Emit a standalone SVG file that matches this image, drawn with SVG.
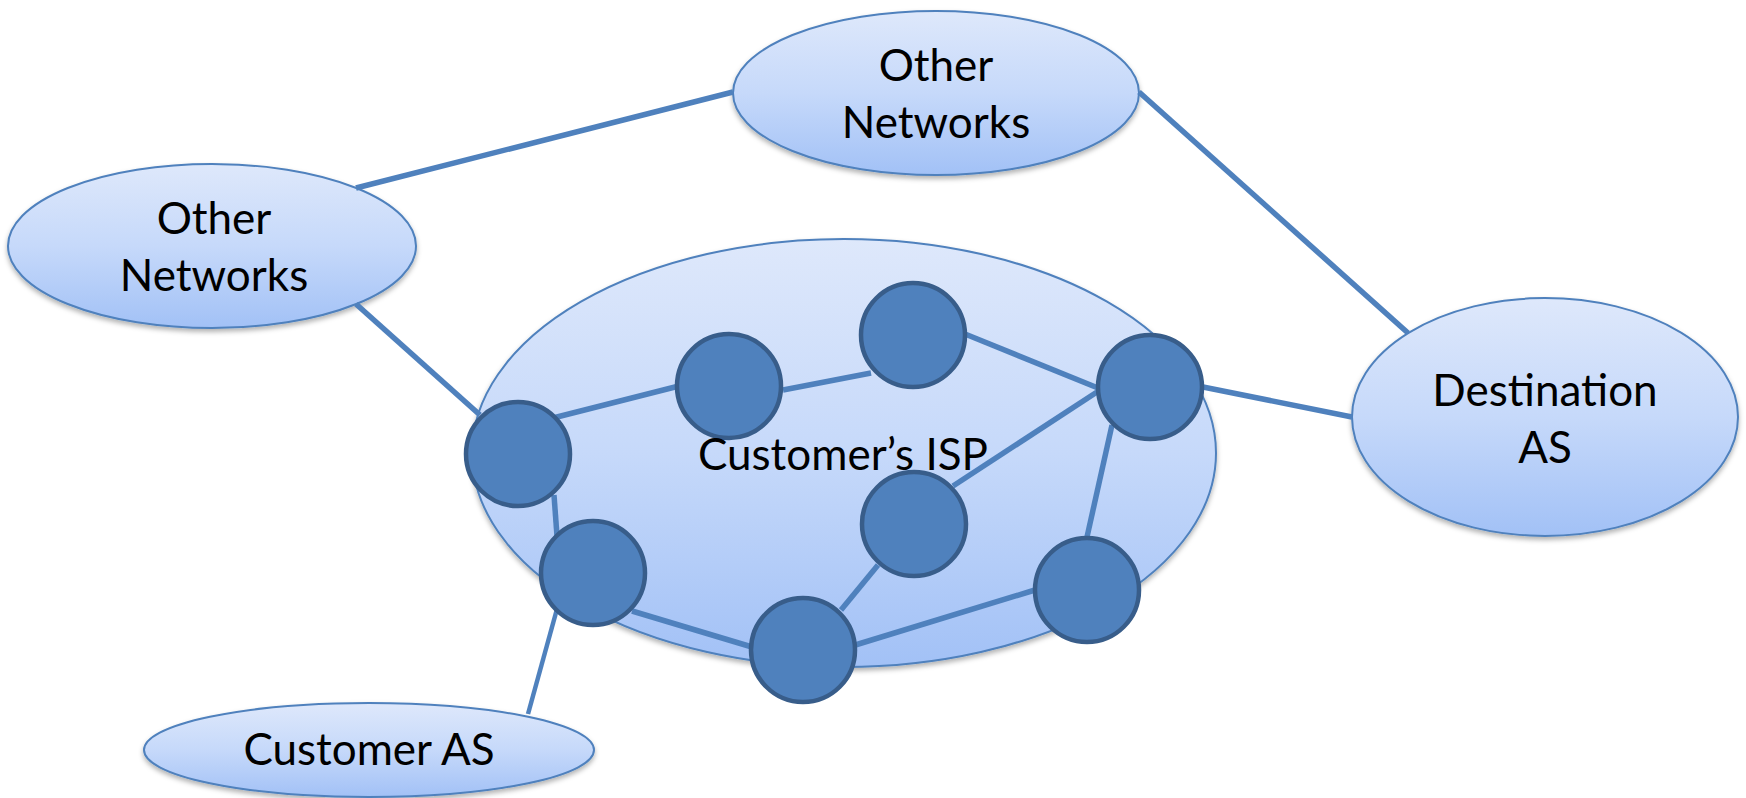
<svg xmlns="http://www.w3.org/2000/svg" width="1746" height="798" viewBox="0 0 1746 798">
<defs>
<linearGradient id="cloud" x1="0" y1="0" x2="0" y2="1">
<stop offset="0" stop-color="#DEE8FB"/>
<stop offset="0.5" stop-color="#C6D9FA"/>
<stop offset="1" stop-color="#A2C1F6"/>
</linearGradient>
<filter id="sh" x="-10%" y="-10%" width="120%" height="130%">
<feDropShadow dx="0" dy="3" stdDeviation="2.5" flood-color="#000" flood-opacity="0.3"/>
</filter>
<style>
.cloud{fill:url(#cloud);stroke:#4F81BD;stroke-width:2;filter:url(#sh)}
.router{fill:#4F81BD;stroke:#385D8A;stroke-width:4.5}
.lbl{font-family:Lato,"Liberation Sans",sans-serif;font-size:44px;fill:#000;text-anchor:middle}
#connectors line{stroke:#4F81BD;stroke-width:5.5;stroke-linecap:butt}
</style>
</defs>
<rect width="1746" height="798" fill="#fff"/>
<g id="isp"><ellipse class="cloud" cx="844" cy="453" rx="372" ry="214"/></g>
<g id="other-left"><ellipse class="cloud" cx="212" cy="246" rx="204" ry="82"/>
<text class="lbl" x="214" y="234">Other</text><text class="lbl" x="214" y="291">Networks</text></g>
<g id="other-top"><ellipse class="cloud" cx="936" cy="93" rx="203" ry="82"/>
<text class="lbl" x="936" y="81">Other</text><text class="lbl" x="936" y="138">Networks</text></g>
<g id="destination-as"><ellipse class="cloud" cx="1545" cy="417" rx="193" ry="119"/>
<text class="lbl" x="1545" y="406">Destination</text><text class="lbl" x="1545" y="463">AS</text></g>
<g id="customer-as"><ellipse class="cloud" cx="369" cy="750" rx="225" ry="47"/>
<text class="lbl" x="369" y="765">Customer AS</text></g>
<g id="connectors">
<line x1="356" y1="188" x2="733" y2="92"/>
<line x1="356" y1="304" x2="480" y2="415"/>
<line x1="1139" y1="92" x2="1408" y2="333"/>
<line x1="1203" y1="387" x2="1352" y2="417"/>
<line x1="553" y1="418" x2="679" y2="386"/>
<line x1="783" y1="390" x2="871" y2="373"/>
<line x1="965" y1="334" x2="1098" y2="388"/>
<line x1="1097" y1="392" x2="953" y2="486"/>
<line x1="1112" y1="425" x2="1087" y2="537"/>
<line x1="554" y1="495" x2="557" y2="536"/>
<line x1="632" y1="611" x2="752" y2="647"/>
<line x1="841" y1="610" x2="878" y2="565"/>
<line x1="852" y1="646" x2="1035" y2="590"/>
<line x1="557" y1="609" x2="528" y2="714" style="stroke-width:4.5"/>
</g>
<g id="r1"><circle class="router" cx="518" cy="454" r="52"/></g>
<g id="r2"><circle class="router" cx="729" cy="386" r="52"/></g>
<g id="r3"><circle class="router" cx="913" cy="335" r="52"/></g>
<g id="r4"><circle class="router" cx="1150" cy="387" r="52"/></g>
<g id="r5"><circle class="router" cx="914" cy="524" r="52"/></g>
<g id="r6"><circle class="router" cx="1087" cy="590" r="52"/></g>
<g id="r7"><circle class="router" cx="803" cy="650" r="52"/></g>
<g id="r8"><circle class="router" cx="593" cy="573" r="52"/></g>
<g id="isp-label"><text class="lbl" x="843" y="470">Customer’s ISP</text></g>
</svg>
